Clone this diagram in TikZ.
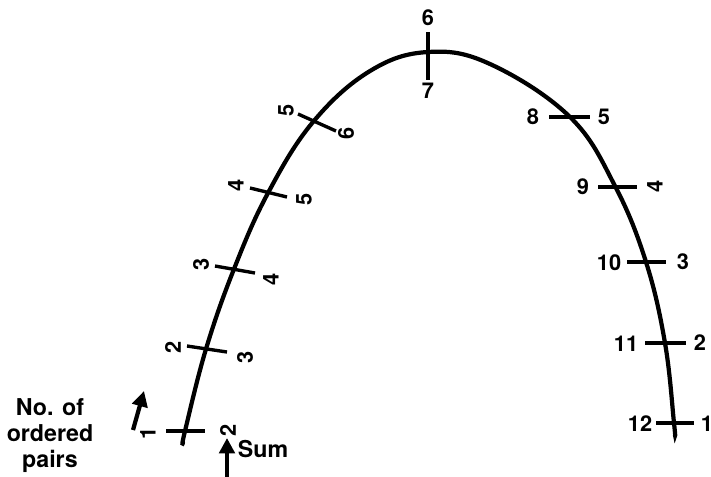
\documentclass[tikz,border=0pt]{standalone}
\usepackage{fontspec}
\setmainfont{TeX Gyre Heros}
\usetikzlibrary{arrows.meta}
\begin{document}
\begin{tikzpicture}[
      x=0.025cm, y=-0.025cm,
      curva/.style={line width=3pt, line cap=round},
      marca/.style={line width=2.4pt},
      cifra/.style={font=\fontsize{15.5}{15.5}\selectfont\bfseries, inner sep=0pt},
      girada/.style={cifra, rotate=90},
      flecha/.style={line width=3pt, -{Triangle[length=11pt,width=11pt]}},
      texto/.style={font=\fontsize{16.5}{18.5}\selectfont\bfseries, align=center, inner sep=0pt}
    ]
    \useasboundingbox (0,0) rectangle (711,476);
    % puntos de la curva
    \coordinate (a0) at (183,443);
    \coordinate (i1) at (185,431);
    \coordinate (i2) at (206,349);
    \coordinate (i3) at (234,269);
    \coordinate (i4) at (268,193);
    \coordinate (i5) at (313,122);
    \coordinate (c1) at (370,71);
    \coordinate (t)  at (428,52);
    \coordinate (c2) at (490,64);
    \coordinate (d8) at (570,117);
    \coordinate (d9) at (615,186);
    \coordinate (d10) at (646,262);
    \coordinate (d11) at (665,343);
    \coordinate (d12) at (674,423);
    \coordinate (b0) at (675,435);

    \draw[curva] plot[smooth, tension=0.65] coordinates
      {(a0) (i1) (i2) (i3) (i4) (i5) (c1) (t) (c2) (d8) (d9) (d10) (d11) (d12) (b0)};

    % marcas
    \draw[marca] (i1) ++(-19,0) -- ++(39,0);
    \draw[marca] (i2) ++(-19,-3) -- ++(40,6);
    \draw[marca] (i3) ++(-19,-3) -- ++(40,7);
    \draw[marca] (i4) ++(-18,-5) -- ++(37,9);
    \draw[marca] (i5) ++(-15,-8) -- ++(38,17);
    \draw[marca] (t) ++(0,-20) -- ++(0,48);
    \draw[marca] (d8) ++(-21,0) -- ++(41,0);
    \draw[marca] (d9) ++(-17,1) -- ++(39,0);
    \draw[marca] (d10) ++(-19,0) -- ++(39,0);
    \draw[marca] (d11) ++(-20,0) -- ++(41,0);
    \draw[marca] (d12) ++(-18,0) -- ++(38,0);

    % numeros
    \node[girada] (n1)  at (148,433) {1};
    \node[girada] (s2)  at (228,430) {2};
    \node[girada] (n2)  at (173,347) {2};
    \node[girada] (s3)  at (245,357) {3};
    \node[girada] (n3)  at (201,264) {3};
    \node[girada] (s4)  at (271,279) {4};
    \node[girada] (n4)  at (236,185) {4};
    \node[girada] (s5)  at (304,199) {5};
    \node[girada] (n5)  at (286,110) {5};
    \node[girada] (s6)  at (346,133) {6};
    \node[cifra]  (s6t) at (428,18)  {6};
    \node[cifra]  (s7)  at (428,91)  {7};
    \node[cifra]  (s8)  at (533,117) {8};
    \node[cifra]  (n5r) at (604,117) {5};
    \node[cifra]  (s9)  at (583,187) {9};
    \node[girada] (n4r) at (655,186) {4};
    \node[cifra]  (s10) at (609,263) {10};
    \node[cifra]  (n3r) at (683,262) {3};
    \node[cifra]  (s11) at (626,344) {11};
    \node[cifra]  (n2r) at (700,343) {2};
    \node[cifra]  (s12) at (640,424) {12};
    \node[cifra]  (n1r) at (707,424) {1};

    % rotulos
    \node[texto] (pares) at (50,436) {No. of\\ ordered\\ pairs};
    \node[texto] (suma) at (263,449) {Sum};
    \coordinate (fp0) at (133,430);
    \coordinate (fp1) at (144,391);
    \coordinate (fs0) at (227,482);
    \coordinate (fs1) at (227,438);
    \draw[flecha] (fp0) -- (fp1);
    \draw[flecha] (fs0) -- (fs1);
  \end{tikzpicture}
\end{document}
